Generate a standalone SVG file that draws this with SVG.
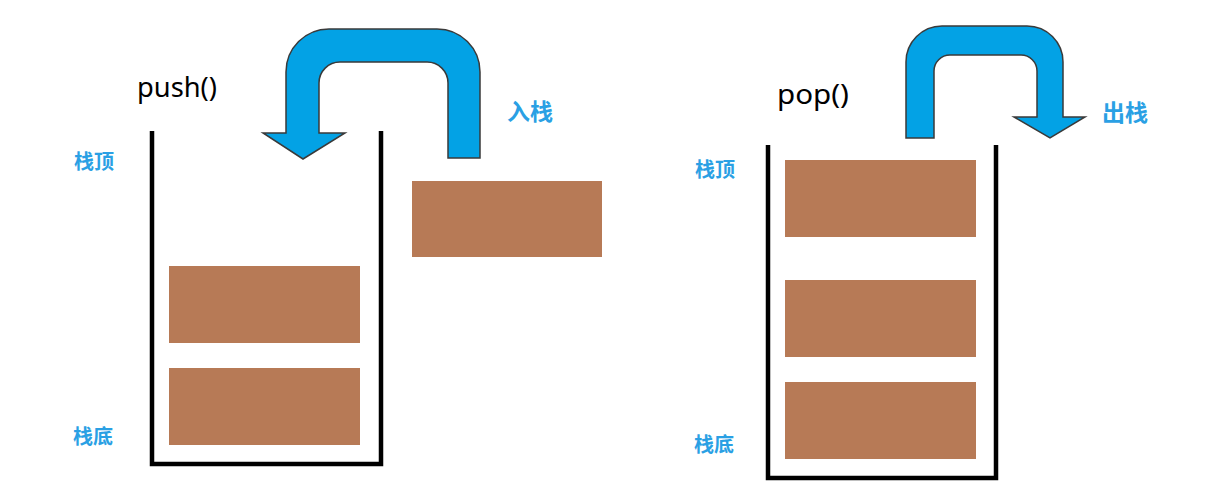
<svg xmlns="http://www.w3.org/2000/svg" width="1229" height="499" viewBox="0 0 1229 499">
<style>
.wall{fill:none;stroke:#000;stroke-width:4.5;stroke-linejoin:miter}
.blk{fill:#B77A56}
.arr{fill:#03A2E5;stroke:#3a3a3a;stroke-width:1.5;stroke-linejoin:miter}
.fn{font-family:"Noto Sans","Open Sans","Liberation Sans",sans-serif;font-size:27px;fill:#000}
.lbl{font-family:"Noto Sans CJK SC","Noto Sans",sans-serif;font-size:20px;font-weight:bold;fill:#2AA0E4}
.big{font-size:23px}
</style>
<rect width="1229" height="499" fill="#fff"/>
<g id="push-stack">
<path class="wall" d="M152 131 V464 H381 V131"/>
<rect class="blk" x="169" y="266" width="191" height="77"/>
<rect class="blk" x="169" y="368" width="191" height="77"/>
<text class="fn" x="137" y="97" textLength="80" lengthAdjust="spacingAndGlyphs">push()</text>
<text class="lbl" x="74" y="169">栈顶</text>
<text class="lbl" x="73" y="444">栈底</text>
</g>
<g id="push-block">
<rect class="blk" x="412" y="181" width="190" height="76"/>
</g>
<g id="pop-stack">
<path class="wall" d="M768 145 V478 H996 V145"/>
<rect class="blk" x="785" y="160" width="191" height="77"/>
<rect class="blk" x="785" y="280" width="191" height="77"/>
<rect class="blk" x="785" y="382" width="191" height="77"/>
<text class="fn" x="777" y="104" textLength="72" lengthAdjust="spacingAndGlyphs">pop()</text>
<text class="lbl" x="695" y="177">栈顶</text>
<text class="lbl" x="694" y="452">栈底</text>
</g>
<g id="connectors">
<path class="arr" d="M303 159 L345 133 L319 133 L319 83 A21 21 0 0 1 340 62 L427 62 A21 21 0 0 1 448 83 L448 158 L480 158 L480 72 A43 43 0 0 0 437 29 L329 29 A43 43 0 0 0 286 72 L286 133 L263 133 Z"/>
<path class="arr" d="M906 138 L906 62 A36 36 0 0 1 942 26 L1027 26 A36 36 0 0 1 1063 62 L1063 117 L1085 117 L1050 138 L1014 117 L1037 117 L1037 71 A16 16 0 0 0 1021 55 L950 55 A16 16 0 0 0 934 71 L934 138 Z"/>
<text class="lbl big" x="507" y="120">入栈</text>
<text class="lbl big" x="1102" y="121">出栈</text>
</g>
</svg>
